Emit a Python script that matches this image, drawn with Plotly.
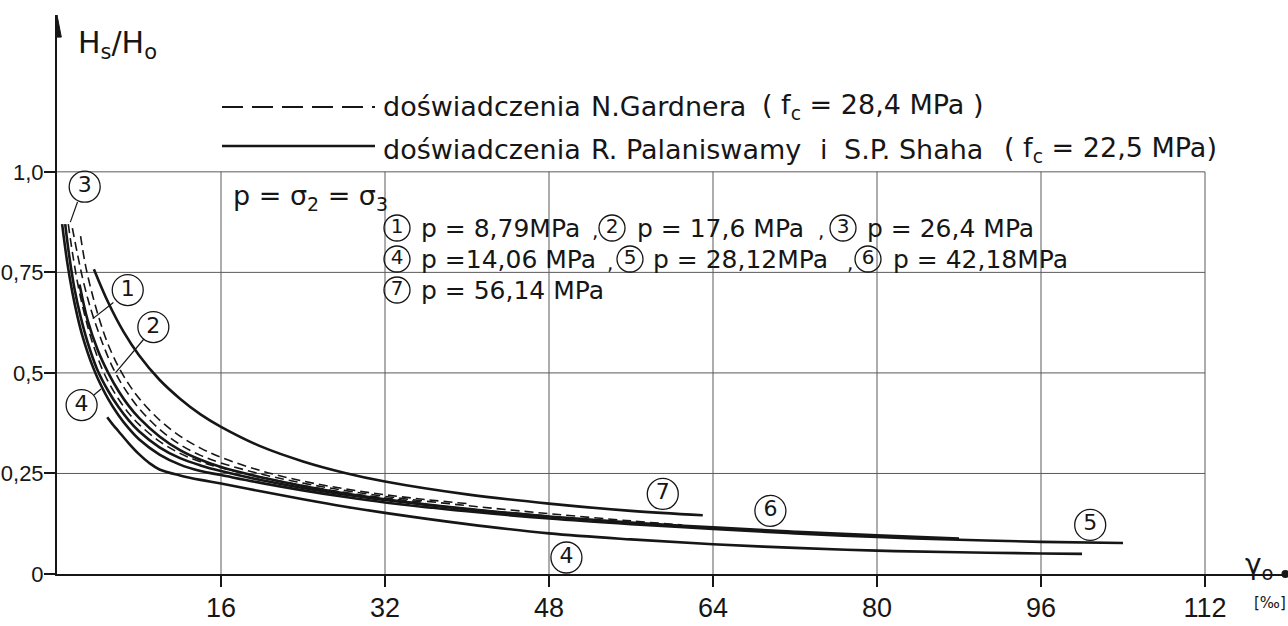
import plotly.graph_objects as go

# ---------------- data ----------------
# Palaniswamy & Shah (solid lines)
c5_x = [0.5, 1, 1.5, 2, 2.5, 3, 3.5, 4, 5, 6, 7, 8, 10, 12, 14, 16, 20, 24, 28, 32, 40, 48, 56, 64, 72, 80, 88, 96, 104]
c5_y = [0.87, 0.775, 0.70, 0.64, 0.59, 0.55, 0.515, 0.485, 0.435, 0.395, 0.362, 0.335, 0.297, 0.272, 0.256, 0.246, 0.226, 0.208, 0.192, 0.178, 0.156, 0.138, 0.124, 0.112, 0.101, 0.092, 0.085, 0.080, 0.077]

c6_x = [0.8, 1.2, 1.7, 2.3, 3, 3.9, 5, 6, 7, 8, 10, 12, 14, 16, 20, 24, 28, 32, 40, 48, 56, 64, 72, 80, 88]
c6_y = [0.87, 0.79, 0.71, 0.64, 0.575, 0.51, 0.455, 0.415, 0.382, 0.355, 0.315, 0.288, 0.27, 0.256, 0.233, 0.214, 0.198, 0.184, 0.161, 0.143, 0.128, 0.116, 0.105, 0.096, 0.088]

cA_x = [2.2, 3, 4, 5, 6, 7, 8, 10, 12, 14, 16, 20, 24, 28, 32, 40, 48]
cA_y = [0.72, 0.63, 0.555, 0.5, 0.455, 0.418, 0.388, 0.342, 0.308, 0.284, 0.266, 0.24, 0.219, 0.201, 0.186, 0.162, 0.143]

c7_x = [3.6, 5, 6.5, 8, 10, 12, 14, 16, 20, 24, 28, 32, 40, 48, 56, 63]
c7_y = [0.758, 0.675, 0.602, 0.544, 0.483, 0.436, 0.397, 0.366, 0.316, 0.280, 0.252, 0.230, 0.198, 0.175, 0.157, 0.146]

c4_x = [4.9, 5.5, 6, 7, 8, 9, 10, 12, 14, 16, 20, 24, 28, 32, 40, 48, 56, 64, 72, 80, 88, 96, 100]
c4_y = [0.39, 0.37, 0.355, 0.325, 0.298, 0.276, 0.26, 0.245, 0.234, 0.225, 0.205, 0.186, 0.168, 0.152, 0.124, 0.101, 0.086, 0.074, 0.065, 0.058, 0.054, 0.051, 0.05]

# Gardner (dashed lines)
d3_x = [1.1, 1.5, 2, 2.5, 3, 3.5, 4.4, 5, 6, 7, 8, 10, 12, 14, 16, 20, 24, 28, 32, 36]
d3_y = [0.87, 0.8, 0.725, 0.665, 0.615, 0.572, 0.51, 0.478, 0.435, 0.4, 0.372, 0.33, 0.3, 0.279, 0.264, 0.24, 0.22, 0.203, 0.189, 0.178]

d2_x = [1.5, 2, 2.5, 3, 3.5, 4.5, 5.5, 6.5, 8, 10, 12, 14, 16, 20, 24, 28, 32, 40, 48, 56, 61]
d2_y = [0.86, 0.795, 0.735, 0.685, 0.642, 0.57, 0.51, 0.465, 0.412, 0.36, 0.322, 0.295, 0.276, 0.248, 0.226, 0.208, 0.193, 0.17, 0.15, 0.132, 0.122]

d1_x = [2.3, 2.8, 3.5, 4.2, 5, 6, 7, 8, 10, 12, 14, 16, 20, 24, 28, 32, 36, 40]
d1_y = [0.84, 0.765, 0.69, 0.628, 0.57, 0.515, 0.472, 0.437, 0.383, 0.343, 0.313, 0.29, 0.256, 0.231, 0.212, 0.197, 0.185, 0.175]

# circled curve labels
lab_text = ["3", "1", "2", "4", "7", "6", "5", "4"]
lab_x = [2.7, 6.9, 9.4, 2.4, 59.1, 69.6, 100.8, 49.7]
lab_y = [0.963, 0.706, 0.614, 0.42, 0.199, 0.157, 0.122, 0.041]

# leader lines: label side -> curve side
lead_x0 = [2.0, 5.5, 8.5, 3.6]
lead_y0 = [0.925, 0.675, 0.585, 0.445]
lead_x1 = [1.3, 3.5, 5.7, 4.3]
lead_y1 = [0.875, 0.635, 0.50, 0.46]

# pressure key (circled number + text)
key_num = ["1", "2", "3", "4", "5", "6", "7"]
key_text = ["p = 8,79MPa", "p = 17,6 MPa", "p = 26,4 MPa",
            "p =14,06 MPa", "p = 28,12MPa", "p = 42,18MPa", "p = 56,14 MPa"]

x_ticks = [16, 32, 48, 64, 80, 96, 112]
x_ticktext = ["16", "32", "48", "64", "80", "96", "112"]
y_ticks = [0, 0.25, 0.5, 0.75, 1.0]
y_ticktext = ["0", "0,25", "0,5", "0,75", "1,0"]

# ---------------- layout helpers ----------------
L, T, B, W, H = 57, 15, 52, 1288, 626
PX_PER_X = 10.25
X_MAX = (W - L) / PX_PER_X
Y_MAX = 1.39
PX_PER_Y = (H - T - B) / Y_MAX
def gx(px):
    return (px - L) / PX_PER_X
def gy(py):
    return (H - B - py) / PX_PER_Y

FONT = "DejaVu Sans, Noto Sans, sans-serif"
TICKFONT = "Liberation Sans, Arial, sans-serif"
INK = "#161616"

fig = go.Figure()

for xs, ys in [(d3_x, d3_y), (d2_x, d2_y), (d1_x, d1_y)]:
    fig.add_trace(go.Scatter(x=xs, y=ys, mode="lines",
                             line=dict(color=INK, width=1.6, dash="9px,5px", shape="spline", smoothing=1.0),
                             hoverinfo="skip"))
for xs, ys in [(c5_x, c5_y), (c6_x, c6_y), (cA_x, cA_y), (c7_x, c7_y), (c4_x, c4_y)]:
    fig.add_trace(go.Scatter(x=xs, y=ys, mode="lines",
                             line=dict(color=INK, width=2.6, shape="spline", smoothing=1.0),
                             hoverinfo="skip"))

# circled labels on the curves
fig.add_trace(go.Scatter(x=lab_x, y=lab_y, mode="markers+text", text=lab_text,
                         marker=dict(symbol="circle-open", size=31, color=INK, line=dict(width=1.3, color=INK)),
                         textfont=dict(family=FONT, size=22, color=INK), textposition="middle center",
                         cliponaxis=False, hoverinfo="skip"))

# key positions (pixel positions of the key items in the reference)
key_cx = [gx(397), gx(612), gx(843), gx(397), gx(630), gx(868), gx(397)]
key_cy = [gy(228), gy(228), gy(228), gy(259), gy(259), gy(259), gy(290)]
key_tx = [gx(420), gx(636), gx(866), gx(420), gx(652), gx(892), gx(420)]
fig.add_trace(go.Scatter(x=key_cx, y=key_cy, mode="markers+text", text=key_num,
                         marker=dict(symbol="circle-open", size=26, color=INK, line=dict(width=1.3, color=INK)),
                         textfont=dict(family=FONT, size=20, color=INK), textposition="middle center",
                         cliponaxis=False, hoverinfo="skip"))

shapes = []
for a, b, c, d in zip(lead_x0, lead_y0, lead_x1, lead_y1):
    shapes.append(dict(type="line", xref="x", yref="y", x0=a, y0=b, x1=c, y1=d, line=dict(color=INK, width=1.2)))
for t in x_ticks:
    shapes.append(dict(type="line", xref="x", yref="y", x0=t, y0=0, x1=t, y1=1.0,
                       line=dict(color="#5a5a5a", width=1), layer="below"))
for v in y_ticks[1:]:
    shapes.append(dict(type="line", xref="x", yref="y", x0=0, y0=v, x1=112, y1=v,
                       line=dict(color="#5a5a5a", width=1), layer="below"))
# y axis arrowhead
shapes.append(dict(type="path", xref="x", yref="y",
                   path=f"M -0.42 {Y_MAX-0.055} L 0 {Y_MAX} L 0.42 {Y_MAX-0.055} Z",
                   fillcolor=INK, line=dict(color=INK, width=1)))
# y axis stub below x axis
shapes.append(dict(type="line", xref="x", yref="y", x0=0, y0=0, x1=0, y1=-0.028, line=dict(color=INK, width=2)))
# legend samples
shapes.append(dict(type="line", xref="x", yref="y", x0=gx(222), y0=gy(107), x1=gx(375), y1=gy(107),
                   line=dict(color=INK, width=2.2, dash="21px,9px")))
shapes.append(dict(type="line", xref="x", yref="y", x0=gx(222), y0=gy(146), x1=gx(375), y1=gy(146),
                   line=dict(color=INK, width=2.4)))

# x axis end dot
fig.add_trace(go.Scatter(x=[X_MAX - 0.25], y=[0], mode="markers", marker=dict(size=8, color=INK),
                         cliponaxis=False, hoverinfo="skip"))

ann = []
def txt(px, py, s, size=27, anchor="left", family=FONT, pad=1):
    ann.append(dict(x=(px - L) / (W - L), y=(H - B - py) / (H - T - B), xref="paper", yref="paper", text=s,
                    showarrow=False, xanchor=anchor, yanchor="middle", borderpad=pad,
                    font=dict(family=family, size=size, color=INK)))

txt(76, 44, "H<sub>s</sub>/H<sub>o</sub>", 30)
# legend line 1
txt(381, 107, "doświadczenia")
txt(589, 107, "N.Gardnera")
txt(760, 107, "( f<sub>c</sub> = 28,4 MPa )")
# legend line 2
txt(381, 149, "doświadczenia")
txt(589, 149, "R. Palaniswamy")
txt(818, 149, "i")
txt(842, 149, "S.P. Shaha")
txt(1002, 149, "( f<sub>c</sub> = 22,5 MPa)")
# stress relation
txt(231, 197, "p = σ<sub>2</sub> = σ<sub>3</sub>", 27)
# pressure key text
for x, y, s in zip(key_tx, key_cy, key_text):
    txt(L + x * PX_PER_X, H - B - y * PX_PER_Y, s, 25, pad=0)
# commas between key items
for px, py in [(591, 231), (817, 231), (606, 263), (846, 263)]:
    txt(px, py, ",", 20, pad=0)
# x axis label
txt(1243, 566, "γ<sub>o</sub>", 28)
txt(1252, 603, "[‰]", 15)

fig.update_layout(
    width=W, height=H, margin=dict(l=L, r=0, t=T, b=B),
    paper_bgcolor="white", plot_bgcolor="white", showlegend=False,
    shapes=shapes, annotations=ann,
    xaxis=dict(range=[0, X_MAX], automargin=False, showgrid=False, zeroline=False, showline=True,
               linecolor=INK, linewidth=2, ticks="outside", ticklen=11, tickwidth=2, tickcolor=INK,
               tickvals=x_ticks, ticktext=x_ticktext, ticklabelstandoff=-2,
               tickfont=dict(family=TICKFONT, size=27, color=INK)),
    yaxis=dict(range=[0, Y_MAX], automargin=False, showgrid=False, zeroline=False, showline=True,
               linecolor=INK, linewidth=2, ticks="outside", ticklen=11, tickwidth=2, tickcolor=INK,
               tickvals=y_ticks, ticktext=y_ticktext, ticklabelstandoff=-4,
               tickfont=dict(family=TICKFONT, size=22, color=INK)),
)

fig.write_html("out.html")
